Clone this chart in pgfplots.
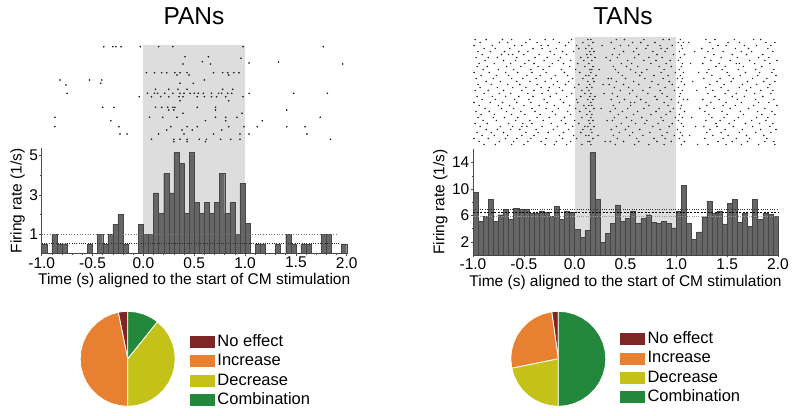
\documentclass[border=0pt]{standalone}
\usepackage{fontspec}
\setmainfont{Liberation Sans}
\usepackage{pgfplots}
\pgfplotsset{compat=1.18}
\usepgfplotslibrary{polar}
\definecolor{shade}{RGB}{221,221,221}
\definecolor{bargray}{RGB}{102,102,102}
\definecolor{baredge}{RGB}{70,70,70}
\definecolor{dotc}{RGB}{35,35,35}
\definecolor{noeff}{RGB}{126,38,38}
\definecolor{incr}{RGB}{232,128,50}
\definecolor{decr}{RGB}{196,194,24}
\definecolor{comb}{RGB}{35,135,60}
\pgfplotsset{
  hist/.style={scale only axis, width=305pt, xmin=-1, xmax=2, ymin=0,
    axis lines=left, axis line style={draw=black!70, line width=0.5pt, -},
    tick style={black!70, line width=0.5pt}, major tick length=2.5pt, minor tick length=1.5pt,
    tick align=outside, xtick={-1,-0.5,0,0.5,1,1.5,2}, minor x tick num=4,
    xticklabel style={/pgf/number format/.cd, fixed, fixed zerofill, precision=1},
    /pgf/number format/assume math mode=true,
    every tick label/.append style={font=\fontsize{15.5}{18}\selectfont, inner sep=1pt},
    label style={font=\fontsize{15.5}{18}\selectfont},
    xlabel style={inner sep=1pt, yshift=-3pt},
    clip=false,
    xlabel={Time (s) aligned to the start of CM stimulation},
    ylabel={Firing rate (1/s)}},
  raster/.style={scale only axis, width=305pt, xmin=-1, xmax=2, hide axis, y dir=reverse, clip=false},
  pie/.style={scale only axis, width=95pt, height=95pt, ymin=0, ymax=1, xmin=0, xmax=360, hide axis, clip=false,
    legend cell align=left,
    legend image code/.code={\fill[##1] (0pt,-6.5pt) rectangle (26pt,6.5pt);},
    legend style={draw=none, fill=none, inner sep=0pt, row sep=0pt,
      font=\fontsize{16.5}{19}\selectfont,
      nodes={inner sep=1.5pt, text height=12.6pt, text depth=3.7pt}}},
}
\begin{document}
\begin{tikzpicture}
\useasboundingbox (0pt,0pt) rectangle (800pt,415pt);
\node[font=\fontsize{24.5}{28}\selectfont] at (194pt,399pt) {PANs};
\node[font=\fontsize{24.5}{28}\selectfont] at (623pt,399pt) {TANs};

% ---------- PAN histogram
\begin{axis}[hist, at={(41.7pt,161.4pt)}, anchor=south west, height=105.8pt, ymax=5.4,
  ytick={1,3,5}, minor ytick={2,4}]
\addplot[fill=shade, draw=none] coordinates {(0,0) (0,10.64) (1,10.64) (1,0)} -- cycle;
\addplot[ybar interval, fill=bargray, draw=baredge, line width=0.4pt] coordinates {
(-1.00,0.5) (-0.95,0) (-0.90,1.0) (-0.85,0.5) (-0.80,0.5) (-0.75,0) (-0.70,0) (-0.65,0) (-0.60,0) (-0.55,0.5)
(-0.50,0) (-0.45,1.0) (-0.40,0.5) (-0.35,1.0) (-0.30,1.5) (-0.25,2.0) (-0.20,0.5) (-0.15,0) (-0.10,0) (-0.05,1.5)
(0.00,1.0) (0.05,1.0) (0.10,3.1) (0.15,2.05) (0.20,4.1) (0.25,3.1) (0.30,5.15) (0.35,4.6) (0.40,2.05) (0.45,5.15)
(0.50,2.6) (0.55,2.05) (0.60,2.6) (0.65,2.05) (0.70,2.6) (0.75,4.1) (0.80,2.05) (0.85,2.6) (0.90,1.0) (0.95,3.6)
(1.00,1.55) (1.05,0) (1.10,0.5) (1.15,0.5) (1.20,0) (1.25,0) (1.30,0.5) (1.35,0) (1.40,1.0) (1.45,0.5)
(1.50,0) (1.55,0.5) (1.60,0.5) (1.65,0) (1.70,0) (1.75,1.0) (1.80,1.0) (1.85,0) (1.90,0) (1.95,0.5)
(2.00,0)};
\addplot[black!55, line width=0.7pt, dash pattern=on 0.7pt off 2pt] coordinates {(-1,1) (1.92,1)};
\addplot[black!85, line width=0.7pt, dash pattern=on 0.7pt off 1.6pt] coordinates {(-1,0.52) (1.92,0.52)};
\end{axis}

% ---------- PAN raster
\begin{axis}[raster, at={(41.7pt,273pt)}, anchor=south west, height=98pt, ymin=44, ymax=142]
\addplot[only marks, mark=*, mark size=0.6pt, dotc] coordinates {
(-0.39,46.7) (-0.30,46.7) (-0.27,46.7) (-0.22,46.7) (-0.03,46.7) (0.15,46.7) (0.29,46.7) (0.98,46.7) (1.77,46.7)
(0.41,56.7) (0.64,56.7) (0.58,61.7) (0.96,58.3) (1.04,63) (1.33,62) (1.96,64) (0.39,64) (0.66,64)
(0.03,72.7) (0.11,72.7) (0.18,72.7) (0.23,72.7) (0.31,72.7) (0.36,72.7) (0.43,72.7) (0.69,72.7) (0.78,72.7) (0.83,72.7) (0.89,72.7) (0.94,72.7)
(0.33,75) (0.45,75) (0.84,75)
(-0.82,80) (-0.53,80) (-0.41,80) (0.60,80)
(-0.42,83.3) (0.36,83.3) (0.49,83.3) (-0.76,85)
(0.12,89.3) (0.25,89.3) (0.34,89.3) (0.43,89.3) (0.78,89.3) (0.88,89.3)
(-0.75,93.3) (0.04,93.3) (0.11,93.3) (0.14,93.3) (0.21,93.3) (0.29,93.3) (0.36,93.3) (0.40,93.3) (0.46,93.3) (0.50,93.3)
(0.54,93.3) (0.59,93.3) (0.67,93.3) (0.74,93.3) (0.77,93.3) (0.83,93.3) (0.87,93.3) (1.04,93.3) (1.48,93.3) (1.81,93.3)
(-0.04,96.7) (0.08,96.7) (0.17,96.7) (0.25,96.7) (0.35,96.7) (0.39,96.7) (0.53,96.7) (0.60,96.7) (0.67,96.7) (0.72,96.7) (0.81,96.7) (0.98,96.7)
(0.36,100.7) (0.84,100.7)
(-0.40,107.3) (-0.29,107.3) (0.12,107.3) (0.18,107.3) (0.24,107.3) (0.29,107.3) (0.31,107.3) (0.53,107.3) (0.71,107.3)
(1.41,110) (0.71,110) (0.25,110) (0.30,110)
(0.39,113.3) (0.97,113.3)
(-0.87,117.3) (0.06,117.3) (0.19,117.3) (0.33,117.3) (0.71,117.3) (0.81,117.3) (0.92,117.3) (1.74,117.3)
(-0.32,120.7) (1.17,120.7) (0.61,120.7) (0.81,120.7)
(-0.87,126.7) (-0.24,126.7) (0.27,126.7) (0.43,126.7) (0.53,126.7) (0.84,126.7) (0.99,126.7) (1.12,126.7) (1.41,126.7) (1.59,126.7)
(0.23,130) (0.38,130) (0.48,130) (0.77,130)
(-0.23,134) (-0.16,134) (0.15,134) (0.40,134) (0.69,134) (0.95,134) (1.04,134) (1.61,134)
(0.08,139.3) (0.30,139.3) (0.36,139.3) (0.43,139.3) (0.55,139.3) (0.62,139.3) (0.76,139.3) (0.86,139.3) (0.95,139.3) (1.84,139.3)
(0.30,141.7) (0.43,141.7) (0.61,141.7)
};
\end{axis}

% ---------- TAN histogram
\begin{axis}[hist, at={(473pt,160pt)}, anchor=south west, height=105.6pt, ymax=16,
  ytick={2,6,10,14}, minor ytick={4,8,12}]
\addplot[fill=shade, draw=none] coordinates {(0,0) (0,33) (1,33) (1,0)} -- cycle;
\addplot[ybar interval, fill=bargray, draw=baredge, line width=0.4pt] coordinates {
(-1.00,9.5) (-0.95,5.1) (-0.90,5.9) (-0.85,8.4) (-0.80,5.1) (-0.75,6.1) (-0.70,6.9) (-0.65,5.4) (-0.60,7.1) (-0.55,6.9)
(-0.50,6.9) (-0.45,6.3) (-0.40,6.3) (-0.35,6.7) (-0.30,6.5) (-0.25,5.9) (-0.20,7.4) (-0.15,5.4) (-0.10,6.7) (-0.05,6.5)
(0.00,3.9) (0.05,2.7) (0.10,3.7) (0.15,15.5) (0.20,8.4) (0.25,1.9) (0.30,3.3) (0.35,4.8) (0.40,7.6) (0.45,5.1)
(0.50,5.6) (0.55,6.7) (0.60,4.8) (0.65,5.6) (0.70,6.1) (0.75,4.9) (0.80,4.8) (0.85,5.1) (0.90,4.8) (0.95,4.1)
(1.00,6.7) (1.05,10.5) (1.10,4.8) (1.15,2.4) (1.20,3.5) (1.25,5.8) (1.30,8.1) (1.35,6.3) (1.40,6.7) (1.45,4.7)
(1.50,7.8) (1.55,8.4) (1.60,5.0) (1.65,6.3) (1.70,4.3) (1.75,8.4) (1.80,5.4) (1.85,6.4) (1.90,6.2) (1.95,5.9)
(2.00,0)};
\addplot[black!80, line width=0.7pt, dash pattern=on 0.7pt off 1.6pt] coordinates {(-1,6.9) (2,6.9)};
\addplot[black, line width=0.7pt, dash pattern=on 2pt off 1.5pt] coordinates {(-1,6.45) (2,6.45)};
\addplot[black!40, line width=0.7pt, dash pattern=on 0.7pt off 1.6pt] coordinates {(-1,5.8) (2,5.8)};
\end{axis}

% ---------- TAN raster
\begin{axis}[raster, at={(473pt,269pt)}, anchor=south west, height=108pt, ymin=0.5, ymax=36.5]
\addplot[only marks, mark=*, mark size=0.5pt, dotc] coordinates {
(-0.98,1) (-0.87,1) (-0.71,1) (-0.62,1) (-0.44,1) (-0.29,1) (-0.21,1) (-0.03,1) (0.13,1) (0.16,1) (0.41,1) (0.49,1) (0.68,1) (0.87,1) (0.93,1) (1.04,1) (1.29,1) (1.38,1) (1.57,1) (1.76,1) (1.83,1)
(-0.93,2) (-0.74,2) (-0.66,2) (-0.48,2) (-0.37,2) (-0.15,2) (-0.06,2) (0.08,2) (0.18,2) (0.36,2) (0.57,2) (0.65,2) (0.79,2) (1.02,2) (1.07,2) (1.33,2) (1.51,2) (1.62,2) (1.88,2) (1.97,2)
(-0.99,3) (-0.81,3) (-0.59,3) (-0.52,3) (-0.33,3) (-0.26,3) (-0.09,3) (0.02,3) (0.14,3) (0.45,3) (0.53,3) (0.72,3) (0.84,3) (0.96,3) (1.05,3) (1.41,3) (1.49,3) (1.67,3) (1.79,3) (1.93,3)
(-0.89,4) (-0.78,4) (-0.64,4) (-0.41,4) (-0.32,4) (-0.18,4) (0.04,4) (0.11,4) (0.17,4) (0.39,4) (0.61,4) (0.70,4) (0.91,4) (1.06,4) (1.25,4) (1.36,4) (1.58,4) (1.71,4) (1.90,4)
(-0.95,5) (-0.83,5) (-0.69,5) (-0.55,5) (-0.46,5) (-0.24,5) (-0.12,5) (-0.01,5) (0.15,5) (0.19,5) (0.48,5) (0.58,5) (0.77,5) (0.89,5) (1.03,5) (1.31,5) (1.46,5) (1.64,5) (1.74,5) (1.95,5)
(-0.91,6) (-0.72,6) (-0.61,6) (-0.50,6) (-0.35,6) (-0.20,6) (-0.08,6) (0.12,6) (0.16,6) (0.37,6) (0.44,6) (0.63,6) (0.81,6) (0.97,6) (1.08,6) (1.37,6) (1.55,6) (1.69,6) (1.85,6)
(-0.97,7) (-0.85,7) (-0.76,7) (-0.57,7) (-0.39,7) (-0.27,7) (-0.14,7) (0.06,7) (0.13,7) (0.20,7) (0.42,7) (0.59,7) (0.73,7) (0.86,7) (1.04,7) (1.28,7) (1.44,7) (1.60,7) (1.81,7) (1.91,7)
(-0.88,8) (-0.70,8) (-0.58,8) (-0.45,8) (-0.30,8) (-0.16,8) (-0.04,8) (0.09,8) (0.17,8) (0.35,8) (0.52,8) (0.68,8) (0.80,8) (0.94,8) (1.02,8) (1.34,8) (1.53,8) (1.72,8) (1.87,8) (1.99,8)
(-0.94,9) (-0.79,9) (-0.63,9) (-0.49,9) (-0.40,9) (-0.22,9) (-0.11,9) (0.03,9) (0.14,9) (0.46,9) (0.56,9) (0.75,9) (0.90,9) (1.06,9) (1.26,9) (1.42,9) (1.59,9) (1.77,9) (1.92,9)
(-0.96,10) (-0.86,10) (-0.67,10) (-0.53,10) (-0.36,10) (-0.25,10) (-0.05,10) (0.10,10) (0.18,10) (0.38,10) (0.51,10) (0.62,10) (0.83,10) (0.95,10) (1.05,10) (1.39,10) (1.48,10) (1.66,10) (1.84,10)
(-0.90,11) (-0.75,11) (-0.60,11) (-0.43,11) (-0.31,11) (-0.13,11) (0.01,11) (0.15,11) (0.17,11) (0.40,11) (0.55,11) (0.71,11) (0.88,11) (1.03,11) (1.32,11) (1.45,11) (1.61,11) (1.78,11) (1.96,11)
(-0.99,12) (-0.84,12) (-0.68,12) (-0.56,12) (-0.42,12) (-0.28,12) (-0.10,12) (0.05,12) (0.16,12) (0.43,12) (0.60,12) (0.66,12) (0.85,12) (0.99,12) (1.07,12) (1.30,12) (1.50,12) (1.68,12) (1.82,12) (1.94,12)
(-0.92,13) (-0.77,13) (-0.65,13) (-0.47,13) (-0.34,13) (-0.19,13) (-0.07,13) (0.11,13) (0.14,13) (0.21,13) (0.47,13) (0.64,13) (0.78,13) (0.92,13) (1.04,13) (1.35,13) (1.52,13) (1.63,13) (1.80,13) (1.98,13)
(-0.97,14) (-0.80,14) (-0.62,14) (-0.51,14) (-0.38,14) (-0.23,14) (-0.02,14) (0.08,14) (0.18,14) (0.36,14) (0.50,14) (0.69,14) (0.87,14) (1.01,14) (1.06,14) (1.27,14) (1.43,14) (1.56,14) (1.75,14) (1.89,14)
(-0.87,15) (-0.73,15) (-0.57,15) (-0.44,15) (-0.29,15) (-0.17,15) (-0.06,15) (0.13,15) (0.19,15) (0.41,15) (0.58,15) (0.76,15) (0.93,15) (1.05,15) (1.40,15) (1.54,15) (1.70,15) (1.86,15) (1.97,15)
(-0.95,16) (-0.82,16) (-0.66,16) (-0.54,16) (-0.37,16) (-0.21,16) (-0.09,16) (0.04,16) (0.15,16) (0.34,16) (0.48,16) (0.63,16) (0.82,16) (0.96,16) (1.08,16) (1.33,16) (1.47,16) (1.65,16) (1.79,16) (1.92,16)
(-0.93,17) (-0.76,17) (-0.61,17) (-0.48,17) (-0.33,17) (-0.15,17) (0.00,17) (0.12,17) (0.17,17) (0.39,17) (0.53,17) (0.74,17) (0.89,17) (1.02,17) (1.29,17) (1.44,17) (1.62,17) (1.73,17) (1.90,17)
(-0.98,18) (-0.85,18) (-0.70,18) (-0.52,18) (-0.40,18) (-0.26,18) (-0.12,18) (0.07,18) (0.14,18) (0.45,18) (0.57,18) (0.67,18) (0.84,18) (0.98,18) (1.06,18) (1.36,18) (1.51,18) (1.69,18) (1.83,18) (1.95,18)
(-0.89,19) (-0.74,19) (-0.63,19) (-0.46,19) (-0.32,19) (-0.18,19) (-0.03,19) (0.10,19) (0.16,19) (0.37,19) (0.54,19) (0.72,19) (0.86,19) (1.04,19) (1.31,19) (1.48,19) (1.59,19) (1.77,19) (1.93,19)
(-0.96,20) (-0.81,20) (-0.68,20) (-0.55,20) (-0.41,20) (-0.24,20) (-0.08,20) (0.06,20) (0.15,20) (0.20,20) (0.42,20) (0.61,20) (0.79,20) (0.91,20) (1.03,20) (1.38,20) (1.55,20) (1.67,20) (1.85,20)
(-0.91,21) (-0.78,21) (-0.59,21) (-0.45,21) (-0.30,21) (-0.14,21) (0.02,21) (0.13,21) (0.18,21) (0.36,21) (0.49,21) (0.65,21) (0.81,21) (0.95,21) (1.07,21) (1.26,21) (1.42,21) (1.60,21) (1.78,21) (1.96,21)
(-0.99,22) (-0.83,22) (-0.71,22) (-0.57,22) (-0.43,22) (-0.27,22) (-0.11,22) (0.03,22) (0.16,22) (0.44,22) (0.59,22) (0.70,22) (0.88,22) (1.02,22) (1.34,22) (1.49,22) (1.64,22) (1.81,22) (1.91,22)
(-0.94,23) (-0.75,23) (-0.64,23) (-0.50,23) (-0.35,23) (-0.20,23) (-0.05,23) (0.09,23) (0.14,23) (0.17,23) (0.38,23) (0.55,23) (0.73,23) (0.92,23) (1.05,23) (1.30,23) (1.46,23) (1.58,23) (1.76,23) (1.99,23)
(-0.88,24) (-0.72,24) (-0.60,24) (-0.42,24) (-0.28,24) (-0.16,24) (0.01,24) (0.11,24) (0.19,24) (0.40,24) (0.52,24) (0.68,24) (0.83,24) (0.97,24) (1.04,24) (1.37,24) (1.53,24) (1.71,24) (1.87,24)
(-0.97,25) (-0.84,25) (-0.67,25) (-0.53,25) (-0.39,25) (-0.22,25) (-0.07,25) (0.05,25) (0.15,25) (0.35,25) (0.47,25) (0.62,25) (0.80,25) (0.94,25) (1.08,25) (1.28,25) (1.45,25) (1.63,25) (1.80,25) (1.94,25)
(-0.92,26) (-0.79,26) (-0.62,26) (-0.49,26) (-0.34,26) (-0.19,26) (-0.04,26) (0.12,26) (0.17,26) (0.43,26) (0.58,26) (0.75,26) (0.90,26) (1.03,26) (1.32,26) (1.50,26) (1.66,26) (1.84,26) (1.97,26)
(-0.95,27) (-0.80,27) (-0.69,27) (-0.56,27) (-0.37,27) (-0.25,27) (-0.10,27) (0.07,27) (0.16,27) (0.39,27) (0.51,27) (0.66,27) (0.85,27) (0.99,27) (1.06,27) (1.35,27) (1.47,27) (1.61,27) (1.79,27) (1.90,27)
(-0.90,28) (-0.77,28) (-0.58,28) (-0.44,28) (-0.31,28) (-0.13,28) (0.00,28) (0.14,28) (0.18,28) (0.37,28) (0.56,28) (0.71,28) (0.87,28) (1.02,28) (1.29,28) (1.43,28) (1.57,28) (1.74,28) (1.88,28)
(-0.98,29) (-0.86,29) (-0.65,29) (-0.51,29) (-0.42,29) (-0.23,29) (-0.09,29) (0.04,29) (0.15,29) (0.46,29) (0.60,29) (0.69,29) (0.82,29) (0.96,29) (1.05,29) (1.39,29) (1.52,29) (1.68,29) (1.82,29) (1.95,29)
(-0.93,30) (-0.73,30) (-0.61,30) (-0.47,30) (-0.32,30) (-0.17,30) (-0.02,30) (0.10,30) (0.13,30) (0.19,30) (0.41,30) (0.53,30) (0.77,30) (0.93,30) (1.07,30) (1.27,30) (1.40,30) (1.56,30) (1.75,30) (1.92,30)
(-0.87,31) (-0.76,31) (-0.63,31) (-0.54,31) (-0.38,31) (-0.21,31) (-0.06,31) (0.08,31) (0.16,31) (0.36,31) (0.50,31) (0.64,31) (0.84,31) (1.01,31) (1.33,31) (1.48,31) (1.65,31) (1.83,31) (1.98,31)
(-0.96,32) (-0.82,32) (-0.70,32) (-0.48,32) (-0.36,32) (-0.26,32) (-0.11,32) (0.06,32) (0.17,32) (0.44,32) (0.57,32) (0.74,32) (0.91,32) (1.04,32) (1.30,32) (1.44,32) (1.62,32) (1.78,32) (1.93,32)
(-0.91,33) (-0.79,33) (-0.66,33) (-0.52,33) (-0.40,33) (-0.15,33) (-0.01,33) (0.11,33) (0.14,33) (0.38,33) (0.54,33) (0.67,33) (0.86,33) (0.98,33) (1.06,33) (1.36,33) (1.51,33) (1.69,33) (1.86,33)
(-0.99,34) (-0.85,34) (-0.68,34) (-0.57,34) (-0.43,34) (-0.28,34) (-0.12,34) (0.02,34) (0.18,34) (0.42,34) (0.61,34) (0.78,34) (0.89,34) (1.03,34) (1.28,34) (1.46,34) (1.59,34) (1.72,34) (1.89,34)
(-0.94,35) (-0.74,35) (-0.60,35) (-0.46,35) (-0.33,35) (-0.18,35) (-0.04,35) (0.13,35) (0.15,35) (0.35,35) (0.48,35) (0.63,35) (0.81,35) (0.95,35) (1.08,35) (1.41,35) (1.55,35) (1.70,35) (1.87,35) (1.96,35)
(-0.89,36) (-0.78,36) (-0.62,36) (-0.50,36) (-0.29,36) (-0.20,36) (-0.08,36) (0.07,36) (0.16,36) (0.40,36) (0.59,36) (0.73,36) (0.88,36) (1.05,36) (1.31,36) (1.49,36) (1.64,36) (1.81,36) (1.97,36)
(0.27,3) (0.31,7) (0.24,11) (0.33,14) (0.29,19) (0.26,24) (0.32,28) (0.23,33) (0.30,35) (0.28,16)
(1.12,2) (1.18,5) (1.14,9) (1.22,12) (1.16,15) (1.20,18) (1.11,21) (1.23,24) (1.15,27) (1.19,30) (1.13,33) (1.21,36)
(-0.65,6) (-0.25,17) (0.55,22) (1.62,9) (-0.52,30) (0.85,4)
};
\end{axis}

% ---------- PAN pie
\begin{polaraxis}[pie, at={(127.7pt,56.2pt)}, anchor=center,
  legend style={at={(1.145,0.78)}, anchor=north west}]
\addplot[fill=noeff, draw=white, line width=0.8pt] coordinates {(0,0) (90,1) (95,1) (101.5,1) (0,0)};
\addlegendentry{No effect}
\addplot[fill=incr, draw=white, line width=0.8pt] coordinates {(0,0) (101.5,1) (110,1) (120,1) (130,1) (140,1) (150,1) (160,1) (170,1) (180,1) (190,1) (200,1) (210,1) (220,1) (230,1) (240,1) (250,1) (260,1) (270,1) (0,0)};
\addlegendentry{Increase}
\addplot[fill=decr, draw=white, line width=0.8pt] coordinates {(0,0) (-90,1) (-80,1) (-70,1) (-60,1) (-50,1) (-40,1) (-30,1) (-20,1) (-10,1) (0,1) (10,1) (20,1) (30,1) (40,1) (51.3,1) (0,0)};
\addlegendentry{Decrease}
\addplot[fill=comb, draw=white, line width=0.8pt] coordinates {(0,0) (51.3,1) (60,1) (70,1) (80,1) (90,1) (0,0)};
\addlegendentry{Combination}
\end{polaraxis}

% ---------- TAN pie
\begin{polaraxis}[pie, at={(558.3pt,56.2pt)}, anchor=center,
  legend style={at={(1.139,0.81)}, anchor=north west}]
\addplot[fill=noeff, draw=white, line width=0.8pt] coordinates {(0,0) (90,1) (94,1) (98,1) (0,0)};
\addlegendentry{No effect}
\addplot[fill=incr, draw=white, line width=0.8pt] coordinates {(0,0) (98,1) (110,1) (120,1) (130,1) (140,1) (150,1) (160,1) (170,1) (180,1) (191.5,1) (0,0)};
\addlegendentry{Increase}
\addplot[fill=decr, draw=white, line width=0.8pt] coordinates {(0,0) (191.5,1) (200,1) (210,1) (220,1) (230,1) (240,1) (250,1) (260,1) (270,1) (0,0)};
\addlegendentry{Decrease}
\addplot[fill=comb, draw=white, line width=0.8pt] coordinates {(0,0) (-90,1) (-80,1) (-70,1) (-60,1) (-50,1) (-40,1) (-30,1) (-20,1) (-10,1) (0,1) (10,1) (20,1) (30,1) (40,1) (50,1) (60,1) (70,1) (80,1) (90,1) (0,0)};
\addlegendentry{Combination}
\end{polaraxis}
\end{tikzpicture}
\end{document}
